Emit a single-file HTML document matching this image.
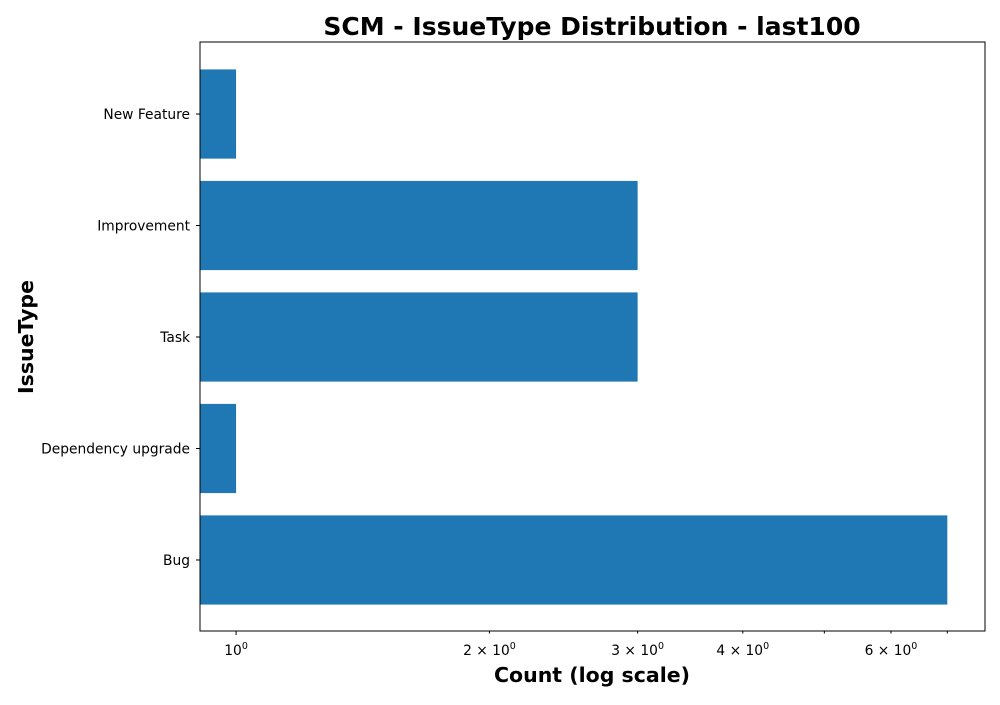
<!DOCTYPE html>
<html><head><meta charset="utf-8"><style>
body{margin:0;background:#fff;font-family:"Liberation Sans","DejaVu Sans",sans-serif;}
</style></head><body>
<svg id="chart" width="1000" height="700" xmlns="http://www.w3.org/2000/svg">
<text x="592" y="35" text-anchor="middle" font-size="25" font-weight="bold" font-family="DejaVu Sans, Liberation Sans, sans-serif">SCM - IssueType Distribution - last100</text>
<g id="bars"></g>
<g id="axes"></g>
<rect x="200" y="42" width="785" height="589" fill="none" stroke="#000" stroke-width="1"/>
<text x="592" y="682" text-anchor="middle" font-size="20.5" font-weight="bold" font-family="DejaVu Sans, Liberation Sans, sans-serif">Count (log scale)</text>
<text transform="translate(33,337) rotate(-90)" text-anchor="middle" font-size="20.5" font-weight="bold" font-family="DejaVu Sans, Liberation Sans, sans-serif">IssueType</text>
</svg>
<script>
const categories = ["Bug","Dependency upgrade","Task","Improvement","New Feature"];
const counts = [7,1,3,3,1];
const majorTicks = [1,2,3,4,6];
const majorLabels = ["1","2","3","4","6"];
const minorTicks = [5,7];
const X0=200,X1=985,Y0=42,Y1=631;
const xmin=0.906,xmax=7.76;
function xs(v){return X0+(Math.log10(v)-Math.log10(xmin))/(Math.log10(xmax)-Math.log10(xmin))*(X1-X0);}
const n=categories.length;
const ylo=-0.637, yhi=n-1+0.646;
function ys(i){return Y1-(i-ylo)/(yhi-ylo)*(Y1-Y0);}
const NS="http://www.w3.org/2000/svg";
const bars=document.getElementById('bars'),axes=document.getElementById('axes');
const bandH=ys(0)-ys(1);
categories.forEach((c,i)=>{
  const r=document.createElementNS(NS,'rect');
  const yc=ys(i);
  r.setAttribute('x',X0);r.setAttribute('y',yc-bandH*0.4);
  r.setAttribute('width',Math.max(0,xs(counts[i])-X0));r.setAttribute('height',bandH*0.8);
  r.setAttribute('fill','#1f77b4');
  
  
  bars.appendChild(r);
  const t=document.createElementNS(NS,'line');
  t.setAttribute('x1',X0-4);t.setAttribute('x2',X0);t.setAttribute('y1',yc);t.setAttribute('y2',yc);t.setAttribute('stroke','#000');
  axes.appendChild(t);
  const l=document.createElementNS(NS,'text');
  l.setAttribute('x',X0-10);l.setAttribute('y',yc+5);l.setAttribute('text-anchor','end');l.setAttribute('font-size','13.8');
  l.setAttribute('font-family','DejaVu Sans, Liberation Sans, sans-serif');
  l.textContent=c;
  
  
  axes.appendChild(l);
});
majorTicks.forEach((v,i)=>{
  const x=xs(v);
  const t=document.createElementNS(NS,'line');
  t.setAttribute('x1',x);t.setAttribute('x2',x);t.setAttribute('y1',Y1);t.setAttribute('y2',Y1+(v===1?4:2.5));t.setAttribute('stroke','#000');
  axes.appendChild(t);
  const l=document.createElementNS(NS,'text');
  l.setAttribute('x',x);l.setAttribute('y',Y1+24);l.setAttribute('text-anchor','middle');l.setAttribute('font-size','13.8');
  l.setAttribute('font-family','DejaVu Sans, Liberation Sans, sans-serif');
  l.innerHTML = v===1 ? '10<tspan dy="-6" font-size="9.5">0</tspan>' : majorLabels[i]+' × 10<tspan dy="-6" font-size="9.5">0</tspan>';
  
  
  axes.appendChild(l);
});
minorTicks.forEach(v=>{
  const x=xs(v);
  const t=document.createElementNS(NS,'line');
  t.setAttribute('x1',x);t.setAttribute('x2',x);t.setAttribute('y1',Y1);t.setAttribute('y2',Y1+2.5);t.setAttribute('stroke','#000');
  axes.appendChild(t);
});
</script>
</body></html>
